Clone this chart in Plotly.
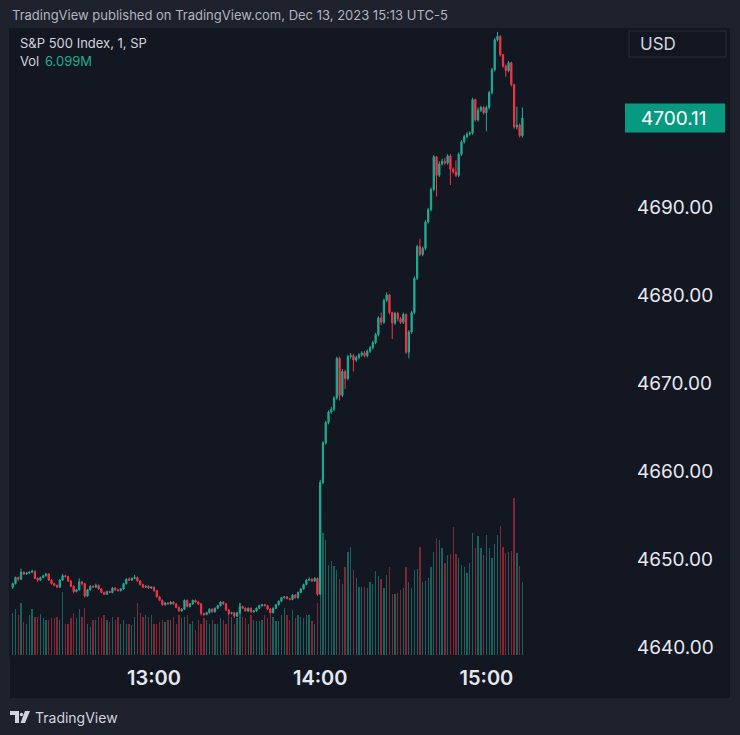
import pandas as pd
import plotly.graph_objects as go

# ---------------- data (1-minute candles, S&P 500 index, Dec 13 2023) ----------------
start_time = "2023-12-13 12:09"

opens = [
    4646.8, 4647.2, 4647.9, 4647.7, 4648.5, 4648.3, 4648.4, 4648.5, 4648.6, 4647.8,
    4647.6, 4647.9, 4648.1, 4648.3, 4647.6, 4647.2, 4647.0, 4646.8, 4647.6, 4648.1,
    4648.0, 4647.5, 4646.9, 4646.3, 4646.5, 4647.4, 4647.2, 4645.8, 4646.5, 4646.9,
    4646.8, 4647.0, 4646.6, 4646.2, 4646.0, 4646.3, 4646.2, 4646.7, 4646.5, 4646.4,
    4646.6, 4647.2, 4647.7, 4647.6, 4647.8, 4647.9, 4647.5, 4647.1, 4646.8, 4646.9,
    4646.7, 4646.8, 4646.4, 4645.7, 4645.3, 4644.8, 4645.0, 4644.9, 4645.1, 4644.9,
    4644.5, 4644.1, 4644.3, 4645.3, 4644.6, 4644.9, 4645.3, 4645.1, 4644.9, 4643.8,
    4643.7, 4643.9, 4644.3, 4644.0, 4644.4, 4644.7, 4645.1, 4644.9, 4644.2, 4643.8,
    4643.9, 4643.5, 4643.9, 4644.6, 4644.4, 4644.1, 4644.4, 4644.0, 4644.1, 4644.4,
    4644.7, 4644.8, 4644.7, 4644.3, 4643.9, 4644.4, 4644.8, 4645.2, 4645.6, 4645.7,
    4645.5, 4645.4, 4645.9, 4645.6, 4646.2, 4646.6, 4647.1, 4647.6, 4647.7, 4647.5,
    4647.8, 4646.0, 4658.7, 4663.2, 4665.5, 4666.7, 4667.0, 4668.3, 4672.8, 4668.6,
    4671.3, 4670.5, 4673.0, 4673.1, 4672.6, 4672.9, 4673.2, 4673.4, 4673.1, 4673.6,
    4674.0, 4674.6, 4675.5, 4677.4, 4676.9, 4679.4, 4680.0, 4678.0, 4676.8, 4677.9,
    4677.3, 4676.9, 4677.8, 4673.5, 4675.8, 4678.0, 4681.9, 4685.5, 4684.6, 4685.3,
    4688.3, 4689.7, 4692.0, 4695.7, 4693.6, 4694.9, 4695.2, 4695.0, 4695.8, 4694.3,
    4694.0, 4693.6, 4696.0, 4697.4, 4698.0, 4698.3, 4698.4, 4702.2, 4699.9, 4701.0,
    4701.3, 4700.7, 4701.3, 4703.0, 4705.6, 4709.0, 4709.4, 4707.3, 4706.0, 4705.5,
    4706.4, 4703.9, 4699.1, 4699.3, 4698.1,
]

highs = [
    4647.3, 4648.0, 4648.0, 4648.9, 4648.6, 4648.5, 4648.6, 4648.8, 4648.7, 4647.9,
    4648.0, 4648.2, 4648.4, 4648.4, 4647.7, 4647.3, 4647.1, 4647.7, 4648.3, 4648.2,
    4648.1, 4647.6, 4647.0, 4646.6, 4647.8, 4647.5, 4647.3, 4646.6, 4647.0, 4647.0,
    4647.2, 4647.1, 4646.7, 4646.3, 4646.4, 4646.4, 4646.8, 4646.8, 4646.6, 4646.7,
    4647.3, 4647.8, 4647.9, 4647.9, 4648.2, 4648.0, 4647.6, 4647.2, 4647.0, 4647.0,
    4646.9, 4646.9, 4646.5, 4645.8, 4645.4, 4645.1, 4645.1, 4645.2, 4645.2, 4645.0,
    4644.6, 4644.4, 4645.4, 4645.4, 4645.0, 4645.4, 4645.4, 4645.2, 4645.0, 4643.9,
    4644.0, 4644.4, 4644.4, 4644.5, 4644.8, 4645.2, 4645.2, 4645.0, 4644.3, 4644.0,
    4644.0, 4644.0, 4645.0, 4644.7, 4644.5, 4644.5, 4644.5, 4644.2, 4644.5, 4644.8,
    4644.9, 4644.9, 4644.8, 4644.4, 4644.5, 4644.9, 4645.3, 4645.7, 4645.8, 4645.8,
    4645.6, 4646.0, 4646.0, 4646.3, 4646.7, 4647.2, 4647.7, 4647.9, 4647.8, 4647.9,
    4647.9, 4659.0, 4663.4, 4665.7, 4666.9, 4667.3, 4668.5, 4673.0, 4673.0, 4671.6,
    4671.5, 4673.2, 4673.4, 4673.3, 4673.1, 4673.4, 4673.6, 4673.6, 4673.8, 4674.2,
    4674.8, 4675.7, 4677.6, 4678.0, 4679.6, 4680.3, 4680.1, 4678.1, 4678.1, 4678.1,
    4677.5, 4678.0, 4677.9, 4676.0, 4678.2, 4682.1, 4685.7, 4686.4, 4685.5, 4688.5,
    4689.9, 4692.2, 4695.9, 4695.8, 4695.2, 4695.5, 4695.6, 4696.0, 4696.0, 4694.5,
    4695.3, 4696.2, 4697.6, 4698.2, 4698.5, 4698.6, 4702.4, 4702.3, 4701.3, 4701.5,
    4701.5, 4701.5, 4703.2, 4705.8, 4709.2, 4709.9, 4709.5, 4707.4, 4706.2, 4706.6,
    4706.5, 4704.0, 4701.4, 4699.5, 4701.3,
]

lows = [
    4646.6, 4647.1, 4647.5, 4647.6, 4648.2, 4648.2, 4648.3, 4648.4, 4647.7, 4647.4,
    4647.5, 4647.8, 4648.0, 4647.5, 4647.1, 4646.9, 4646.7, 4646.7, 4647.5, 4647.9,
    4647.4, 4646.8, 4646.1, 4646.2, 4646.4, 4647.0, 4645.6, 4645.7, 4646.4, 4646.7,
    4646.7, 4646.5, 4646.1, 4645.9, 4645.9, 4646.1, 4646.1, 4646.4, 4646.3, 4646.3,
    4646.5, 4647.1, 4647.5, 4647.5, 4647.7, 4647.4, 4647.0, 4646.7, 4646.7, 4646.6,
    4646.6, 4646.3, 4645.6, 4645.2, 4644.7, 4644.7, 4644.8, 4644.8, 4644.8, 4644.4,
    4644.0, 4644.0, 4644.2, 4644.5, 4644.5, 4644.8, 4645.0, 4644.8, 4643.6, 4643.5,
    4643.6, 4643.8, 4643.9, 4643.9, 4644.3, 4644.6, 4644.8, 4644.1, 4643.6, 4643.7,
    4643.3, 4643.4, 4643.8, 4644.3, 4644.0, 4644.0, 4643.9, 4643.9, 4644.0, 4644.3,
    4644.6, 4644.6, 4644.2, 4643.8, 4643.8, 4644.3, 4644.7, 4645.1, 4645.5, 4645.4,
    4645.3, 4645.3, 4645.5, 4645.5, 4646.1, 4646.5, 4647.0, 4647.5, 4647.4, 4647.4,
    4645.8, 4645.9, 4658.5, 4663.0, 4665.3, 4666.5, 4666.8, 4668.1, 4668.0, 4668.4,
    4669.3, 4670.3, 4672.8, 4671.3, 4672.4, 4672.7, 4673.0, 4672.9, 4672.9, 4673.4,
    4673.8, 4674.4, 4675.3, 4676.6, 4676.7, 4679.2, 4677.8, 4675.0, 4676.6, 4677.0,
    4676.7, 4676.7, 4673.3, 4672.8, 4675.6, 4677.8, 4681.7, 4684.4, 4684.4, 4685.1,
    4688.1, 4689.5, 4691.8, 4691.2, 4693.4, 4694.7, 4694.8, 4694.8, 4692.5, 4693.8,
    4693.4, 4693.4, 4695.8, 4697.2, 4697.8, 4698.1, 4698.2, 4699.7, 4699.7, 4700.8,
    4700.5, 4698.6, 4701.1, 4702.8, 4705.4, 4708.8, 4707.1, 4705.8, 4704.8, 4705.3,
    4703.7, 4698.9, 4698.8, 4697.9, 4697.9,
]

closes = [
    4647.2, 4647.9, 4647.7, 4648.5, 4648.3, 4648.4, 4648.5, 4648.6, 4647.8, 4647.6,
    4647.9, 4648.1, 4648.3, 4647.6, 4647.2, 4647.0, 4646.8, 4647.6, 4648.1, 4648.0,
    4647.5, 4646.9, 4646.3, 4646.5, 4647.4, 4647.2, 4645.8, 4646.5, 4646.9, 4646.8,
    4647.0, 4646.6, 4646.2, 4646.0, 4646.3, 4646.2, 4646.7, 4646.5, 4646.4, 4646.6,
    4647.2, 4647.7, 4647.6, 4647.8, 4647.9, 4647.5, 4647.1, 4646.8, 4646.9, 4646.7,
    4646.8, 4646.4, 4645.7, 4645.3, 4644.8, 4645.0, 4644.9, 4645.1, 4644.9, 4644.5,
    4644.1, 4644.3, 4645.3, 4644.6, 4644.9, 4645.3, 4645.1, 4644.9, 4643.8, 4643.7,
    4643.9, 4644.3, 4644.0, 4644.4, 4644.7, 4645.1, 4644.9, 4644.2, 4643.8, 4643.9,
    4643.5, 4643.9, 4644.6, 4644.4, 4644.1, 4644.4, 4644.0, 4644.1, 4644.4, 4644.7,
    4644.8, 4644.7, 4644.3, 4643.9, 4644.4, 4644.8, 4645.2, 4645.6, 4645.7, 4645.5,
    4645.4, 4645.9, 4645.6, 4646.2, 4646.6, 4647.1, 4647.6, 4647.7, 4647.5, 4647.8,
    4646.0, 4658.7, 4663.2, 4665.5, 4666.7, 4667.0, 4668.3, 4672.8, 4668.6, 4671.3,
    4670.5, 4673.0, 4673.1, 4672.6, 4672.9, 4673.2, 4673.4, 4673.1, 4673.6, 4674.0,
    4674.6, 4675.5, 4677.4, 4676.9, 4679.4, 4680.0, 4678.0, 4676.8, 4677.9, 4677.3,
    4676.9, 4677.8, 4673.5, 4675.8, 4678.0, 4681.9, 4685.5, 4684.6, 4685.3, 4688.3,
    4689.7, 4692.0, 4695.7, 4693.6, 4694.9, 4695.2, 4695.0, 4695.8, 4694.3, 4694.0,
    4693.6, 4696.0, 4697.4, 4698.0, 4698.3, 4698.4, 4702.2, 4699.9, 4701.0, 4701.3,
    4700.7, 4701.3, 4703.0, 4705.6, 4709.0, 4709.4, 4707.3, 4706.0, 4705.5, 4706.4,
    4703.9, 4699.1, 4699.3, 4698.1, 4700.11,
]

volumes_m = [
    3.5, 3.8, 3.3, 4.3, 2.75, 2.6, 3.3, 3.8, 3.2, 3.2,
    3.4, 3.1, 2.9, 2.9, 3.1, 3.1, 3.2, 2.9, 5.25, 2.6,
    2.6, 3.1, 3.5, 3.1, 3.8, 3.2, 3.9, 2.6, 2.35, 2.9,
    2.9, 3.2, 3.1, 3.3, 2.9, 2.75, 3.2, 2.9, 3.2, 2.6,
    2.9, 2.6, 2.6, 2.5, 3.2, 4.3, 3.5, 3.2, 3.3, 3.2,
    3.3, 2.6, 2.6, 2.75, 2.9, 2.75, 2.9,
    2.9, 3.2, 2.6, 3.3, 3.1, 3.2, 3.3, 2.6, 2.8, 2.1,
    2.9, 2.6, 3.1, 2.9, 2.6, 2.9, 2.6, 2.6, 3.1, 2.9,
    2.6, 3.3, 3.2, 2.6, 3.1, 4.3, 3.2, 3.1, 2.6, 3.3,
    2.9, 2.8, 2.8, 2.9, 3.3, 3.1, 3.5, 3.2, 2.8, 2.8,
    3.3, 3.9, 3.3, 2.9, 3.75, 3.1, 3.3, 3.2, 3.1, 3.3,
    3.3, 2.8, 2.6, 4.3,
    11.5,
    10.2, 9.6, 7.5, 7.8, 7.4, 7.1, 6.3, 5.9, 7.3, 8.6,
    9.0, 7.1, 6.4, 5.7, 5.7, 5.7, 5.6, 6.1, 5.9, 7.0,
    6.6, 6.3, 5.6, 6.7, 7.3, 5.1, 5.1, 5.2, 5.4, 5.6,
    7.3, 6.1, 5.6, 7.1, 7.2, 9.0, 6.1, 6.2, 6.4, 7.3,
    8.6, 9.75, 9.6, 8.9, 7.7, 8.3, 8.4, 10.7, 8.4, 8.1,
    7.5, 7.3, 6.8, 7.7, 10.2, 8.9, 9.9, 8.9, 8.3, 10.0,
    8.9, 8.1, 9.25, 10.0, 10.75, 9.0, 8.5, 8.6, 8.7, 13.1,
    8.5, 7.4, 6.099,
]

price_ticks = [4640, 4650, 4660, 4670, 4680, 4690]
time_ticks = ["2023-12-13 13:00", "2023-12-13 14:00", "2023-12-13 15:00"]
time_labels = ["13:00", "14:00", "15:00"]
last_price = 4700.11
header = "TradingView published on TradingView.com, Dec 13, 2023 15:13 UTC-5"
title = "S&P 500 Index, 1, SP"
vol_label = "6.099M"

# ---------------- styling ----------------
UP = "#22ab94"
DOWN = "#f23645"
UP_VOL = "rgba(34,171,148,0.5)"
DOWN_VOL = "rgba(242,54,69,0.5)"
OUTER_BG = "#1e222d"
INNER_BG = "#131722"
TEXT = "#d1d4dc"
FONT = "Inter, Roboto, sans-serif"

times = pd.date_range(start_time, periods=len(closes), freq="min")
vol_colors = [UP_VOL if c >= o else DOWN_VOL for o, c in zip(opens, closes)]

W, H = 740, 735
L, R, T, B = 9, 618, 28, 657  # plot area in pixels


def px(x):
    return (x - L) / (R - L)


def py(y):
    return (B - y) / (B - T)


fig = go.Figure()

fig.add_trace(go.Bar(
    x=times, y=volumes_m, marker=dict(color=vol_colors, line=dict(width=0)),
    width=28000, yaxis="y2", hoverinfo="skip", showlegend=False,
))

fig.add_trace(go.Candlestick(
    x=times, open=opens, high=highs, low=lows, close=closes,
    increasing=dict(line=dict(color=UP, width=1), fillcolor=UP),
    decreasing=dict(line=dict(color=DOWN, width=1), fillcolor=DOWN),
    whiskerwidth=0, showlegend=False,
))

px_per_min = 2.77
x0 = pd.Timestamp("2023-12-13 13:00") - pd.Timedelta(minutes=(154 - L) / px_per_min)
x1 = pd.Timestamp("2023-12-13 13:00") + pd.Timedelta(minutes=(R - 154) / px_per_min)

px_per_pt = 8.8
y_lo = 4640 - (B - 647) / px_per_pt
y_hi = 4640 + (647 - T) / px_per_pt

vol_px = 12.0
v_lo = -(B - 655) / vol_px
v_hi = (655 - T) / vol_px

shapes = [
    # inner dark panel
    dict(type="rect", xref="paper", yref="paper", x0=px(10), x1=px(730), y0=py(698), y1=py(28),
         fillcolor=INNER_BG, line=dict(width=0), layer="below"),
    # USD box
    dict(type="rect", xref="paper", yref="paper", x0=px(629), x1=px(726), y0=py(57), y1=py(31),
         fillcolor=INNER_BG, line=dict(color="#2a2e39", width=1)),
    # last price label
    dict(type="rect", xref="paper", yref="y", x0=px(625), x1=px(725),
         y0=last_price - 14.5 / px_per_pt, y1=last_price + 14.5 / px_per_pt,
         fillcolor="#089981", line=dict(width=0)),
    # logo
    dict(type="path", xref="paper", yref="paper",
         path=f"M{px(10)},{py(711)} L{px(19)},{py(711)} L{px(19)},{py(723)} L{px(15)},{py(723)} "
              f"L{px(15)},{py(715)} L{px(10)},{py(715)} Z",
         fillcolor="#d1d4dc", line=dict(width=0)),
    dict(type="circle", xref="paper", yref="paper", x0=px(19.8), x1=px(23.2), y0=py(716.2), y1=py(712.8),
         fillcolor="#d1d4dc", line=dict(width=0)),
    dict(type="path", xref="paper", yref="paper",
         path=f"M{px(25)},{py(711)} L{px(30)},{py(711)} L{px(25)},{py(723)} L{px(20.5)},{py(723)} Z",
         fillcolor="#d1d4dc", line=dict(width=0)),
]

annotations = [
    dict(text=header, xref="paper", yref="paper", x=px(10), y=py(15), xanchor="left", yanchor="middle",
         showarrow=False, font=dict(family=FONT, size=13, color="#b2b5be")),
    dict(text=title, xref="paper", yref="paper", x=px(18), y=py(43), xanchor="left", yanchor="middle",
         showarrow=False, font=dict(family=FONT, size=13, color=TEXT)),
    dict(text="Vol", xref="paper", yref="paper", x=px(18), y=py(61), xanchor="left", yanchor="middle",
         showarrow=False, font=dict(family=FONT, size=13, color=TEXT)),
    dict(text=vol_label, xref="paper", yref="paper", x=px(43), y=py(61), xanchor="left", yanchor="middle",
         showarrow=False, font=dict(family=FONT, size=13, color=UP)),
    dict(text="USD", xref="paper", yref="paper", x=px(638), y=py(44), xanchor="left", yanchor="middle",
         showarrow=False, font=dict(family=FONT, size=17, color=TEXT)),
    dict(text=f"{last_price:.2f}", xref="paper", yref="y", x=px(639), y=last_price, xanchor="left",
         yanchor="middle", showarrow=False, font=dict(family=FONT, size=19, color="#ffffff")),
    dict(text="TradingView", xref="paper", yref="paper", x=px(33), y=py(717), xanchor="left",
         yanchor="middle", showarrow=False, font=dict(family=FONT, size=14, color=TEXT)),
]

fig.update_layout(
    width=W, height=H,
    margin=dict(l=L, r=W - R, t=T, b=H - B),
    paper_bgcolor=OUTER_BG, plot_bgcolor=INNER_BG,
    boxgap=0.35,
    bargap=0,
    showlegend=False,
    shapes=shapes,
    annotations=annotations,
    xaxis=dict(
        type="date", range=[x0, x1], rangeslider=dict(visible=False),
        tickvals=time_ticks, ticktext=time_labels,
        showgrid=False, zeroline=False, showline=False, ticks="",
        tickfont=dict(family=FONT, size=20, color="#e6e8ee", weight=600),
        ticklabelstandoff=7, fixedrange=True,
    ),
    yaxis=dict(
        side="right", range=[y_lo, y_hi], tickvals=price_ticks,
        ticktext=[f"{v:.2f}" for v in price_ticks],
        showgrid=False, zeroline=False, showline=False, ticks="",
        tickfont=dict(family=FONT, size=19, color="#e6e8ee"),
        ticklabelstandoff=18, fixedrange=True,
    ),
    yaxis2=dict(overlaying="y", range=[v_lo, v_hi], visible=False, fixedrange=True),
)

fig.write_html(
    "out.html",
    config={"displayModeBar": False},
    post_script="document.body.style.margin='0';document.body.style.background='#1e222d';",
)
